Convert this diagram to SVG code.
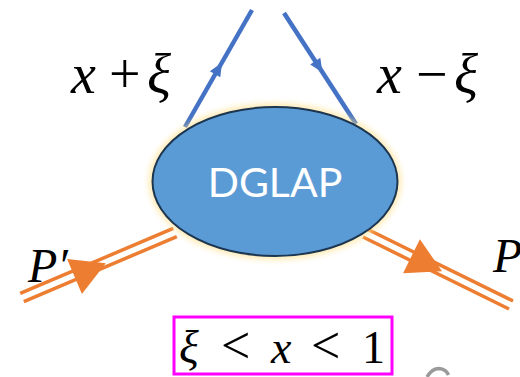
<svg xmlns="http://www.w3.org/2000/svg" width="520" height="377" viewBox="0 0 520 377">
<style>
.math{font-family:"Liberation Serif","Times New Roman",serif;font-style:italic;fill:#000}
.up{font-style:normal}
.rel{font-style:normal;font-size:52px}
.quark{stroke:#4472C4;stroke-width:4.5;fill:none}
.quarkhead{fill:#4472C4}
.proton{stroke:#ED7D31;stroke-width:3.5;fill:none}
.protonhead{fill:#ED7D31}
</style>
<defs>
<filter id="glow" x="-20%" y="-20%" width="140%" height="140%">
<feGaussianBlur stdDeviation="3"/>
</filter>
</defs>
<rect width="520" height="377" fill="#ffffff"/>
<g id="connectors">
<line class="quark" x1="185" y1="127" x2="252" y2="10"/>
<polygon class="quarkhead" points="222,62.5 220.3,77.3 209.9,71.3"/>
<line class="quark" x1="284" y1="13" x2="356" y2="124"/>
<polygon class="quarkhead" points="322.5,72.5 310.2,64.4 320.3,57.8"/>
<line class="proton" x1="20.2" y1="293.4" x2="173.2" y2="228.4"/>
<line class="proton" x1="23.8" y1="301.6" x2="176.8" y2="236.6"/>
<polygon class="protonhead" points="105.8,263.2 67.1,259 81.9,294"/>
<line class="proton" x1="367" y1="229" x2="513" y2="301"/>
<line class="proton" x1="363" y1="237" x2="509" y2="309"/>
<polygon class="protonhead" points="442,271.2 403.1,273.2 419.9,239.2"/>
</g>
<g id="dglap">
<ellipse cx="275" cy="181.5" rx="126" ry="78" fill="#FFE08A" opacity="0.7" filter="url(#glow)"/>
<ellipse cx="275" cy="181.5" rx="122.5" ry="74.5" fill="#5B9BD5" stroke="#1C3550" stroke-width="2"/>
<text x="275" y="197" text-anchor="middle" font-family="Lato,'Open Sans',sans-serif" font-size="41" fill="#ffffff">DGLAP</text>
</g>
<g id="label-xplus">
<text class="math" y="93" font-size="56"><tspan x="71">x</tspan><tspan class="up" x="109">+</tspan><tspan x="147">ξ</tspan></text>
</g>
<g id="label-xminus">
<text class="math" y="93" font-size="56"><tspan x="377">x</tspan><tspan class="up" x="416">−</tspan><tspan x="454">ξ</tspan></text>
</g>
<g id="label-Pprime">
<text class="math" x="28" y="282" font-size="48">P′</text>
</g>
<g id="label-P">
<text class="math" x="493" y="272" font-size="48">P</text>
</g>
<g id="condition">
<rect x="174" y="317" width="218" height="57" fill="none" stroke="#FF00FF" stroke-width="3"/>
<text class="math" y="363" font-size="46"><tspan x="179">ξ</tspan><tspan class="rel" x="221">&lt;</tspan><tspan x="271">x</tspan><tspan class="rel" x="311">&lt;</tspan><tspan class="up" x="362">1</tspan></text>
</g>
<path d="M427,377 Q432,368.5 439,368.5 Q446,369 448.5,375" fill="none" stroke="#9A9A9A" stroke-width="3.5"/>
</svg>
